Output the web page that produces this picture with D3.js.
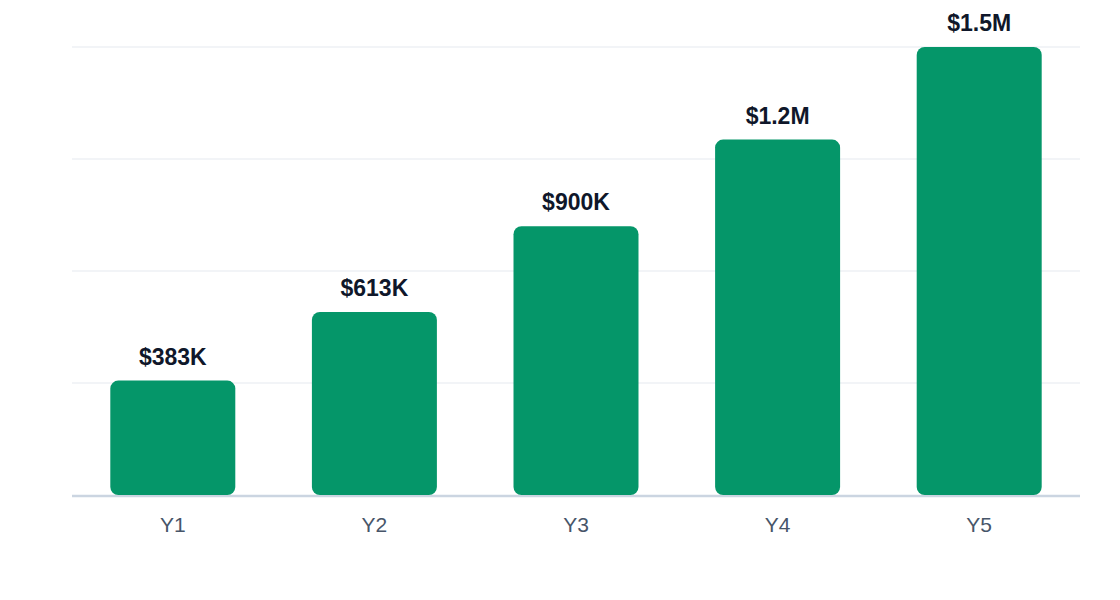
<!DOCTYPE html>
<html>
<head>
<meta charset="utf-8">
<script src="https://cdn.jsdelivr.net/npm/d3@7"></script>
<style>
	html, body { margin: 0; padding: 0; background: #fff; }
	svg { display: block; font-family: "Liberation Sans", Arial, Helvetica, sans-serif; }
	.grid line { stroke: #eef1f5; stroke-width: 1.5; }
	.baseline { stroke: #cbd5e1; stroke-width: 2.5; }
	.bar { fill: #059669; }
	.value-label { font-size: 23px; font-weight: 700; fill: #0f172a; text-anchor: middle; }
	.x-label { font-size: 21px; fill: #475569; text-anchor: middle; }
</style>
</head>
<body>
<div id="chart"></div>
<script>
var years = ['Y1', 'Y2', 'Y3', 'Y4', 'Y5'];
var revenue = [383000, 613000, 900000, 1190000, 1500000];
var valueLabels = ['$383K', '$613K', '$900K', '$1.2M', '$1.5M'];
var gridValues = [375000, 750000, 1125000, 1500000];

(function() {
	var width = 1120,
		height = 600,
		left = 72,
		right = 1080,
		top = 47,
		bottom = 495

	var svg = d3.select('#chart')
		.append('svg')
		.attr('width', width)
		.attr('height', height)

	var x = d3.scaleBand()
		.domain(years)
		.range([left, right])
		.paddingInner(0.38)
		.paddingOuter(0.19)

	var y = d3.scaleLinear()
		.domain([0, 1500000])
		.range([bottom, top])

	svg.append('g')
		.attr('class', 'grid')
		.selectAll('line')
		.data(gridValues)
		.enter()
		.append('line')
		.attr('x1', left)
		.attr('x2', right)
		.attr('y1', function(d) { return y(d); })
		.attr('y2', function(d) { return y(d); })

	svg.append('line')
		.attr('class', 'baseline')
		.attr('x1', left)
		.attr('x2', right)
		.attr('y1', y(0) + 1)
		.attr('y2', y(0) + 1)

	var bars = svg.append('g')
		.selectAll('g')
		.data(years)
		.enter()
		.append('g')

	bars.append('rect')
		.attr('class', 'bar')
		.attr('x', function(d) { return x(d); })
		.attr('width', x.bandwidth())
		.attr('y', function(d, i) { return y(revenue[i]); })
		.attr('height', function(d, i) { return y(0) - y(revenue[i]); })
		.attr('rx', 8)
		.attr('ry', 8)

	bars.append('text')
		.attr('class', 'value-label')
		.attr('x', function(d) { return x(d) + x.bandwidth()/2; })
		.attr('y', function(d, i) { return y(revenue[i]) - 16; })
		.text(function(d, i) { return valueLabels[i]; })

	bars.append('text')
		.attr('class', 'x-label')
		.attr('x', function(d) { return x(d) + x.bandwidth()/2; })
		.attr('y', y(0) + 37)
		.text(function(d) { return d; })
})();
</script>
</body>
</html>
